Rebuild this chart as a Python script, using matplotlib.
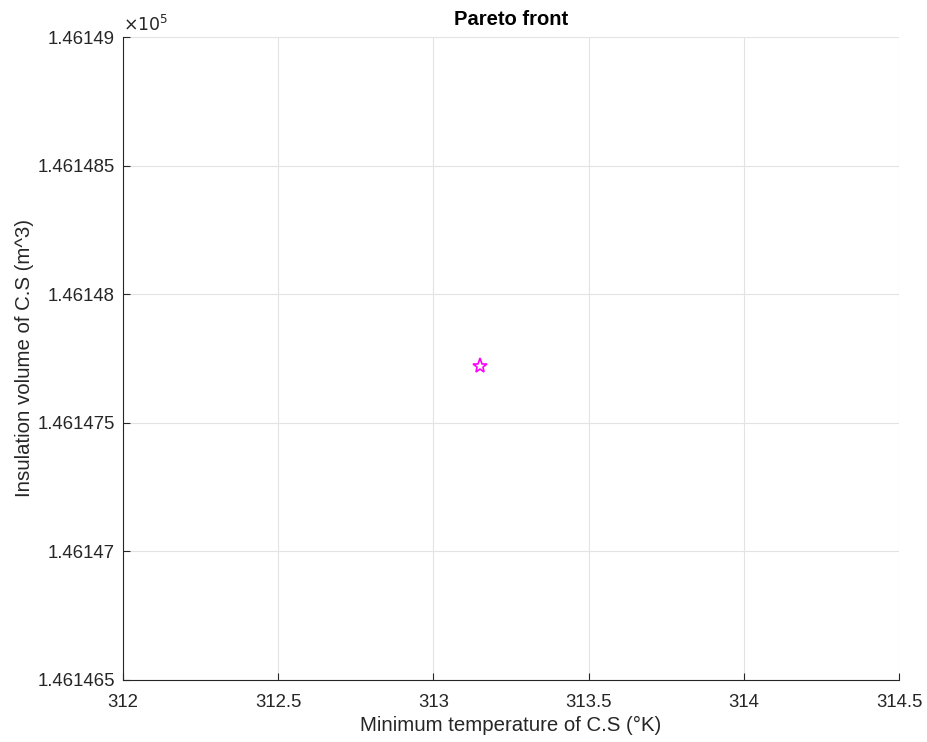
import matplotlib
matplotlib.use("Agg")
import matplotlib.pyplot as plt
from matplotlib.ticker import FuncFormatter

plt.rcParams['font.family'] = ['Liberation Sans', 'DejaVu Sans']

# Pareto solution (single point)
min_temperature = [313.15]
insulation_volume = [146147.72]

x_limits = [312.0, 314.5]
y_limits = [146146.5, 146149.0]
x_ticks = [312, 312.5, 313, 313.5, 314, 314.5]
y_ticks = [146146.5, 146147.0, 146147.5, 146148.0, 146148.5, 146149.0]

fig = plt.figure(figsize=(9.27, 7.42), dpi=100)
ax = fig.add_axes([0.1327, 0.0836, 0.8371, 0.8665])

ax.plot(min_temperature, insulation_volume, linestyle='none', marker='*',
        markersize=11, markerfacecolor='none', markeredgecolor='#ff00ff',
        markeredgewidth=1.2)

ax.set_xlim(x_limits)
ax.set_ylim(y_limits)
ax.set_xticks(x_ticks)
ax.set_yticks(y_ticks)
ax.xaxis.set_major_formatter(FuncFormatter(lambda v, p: f"{v:g}"))
ax.yaxis.set_major_formatter(FuncFormatter(lambda v, p: f"{v / 1e5:.7g}"))

ax.grid(True, color='#e3e3e3', linewidth=0.8)
ax.set_axisbelow(True)
for side in ('top', 'right'):
    ax.spines[side].set_visible(False)
for side in ('left', 'bottom'):
    ax.spines[side].set_color('#262626')
    ax.spines[side].set_linewidth(0.8)

ax.tick_params(direction='in', length=5, width=0.8, colors='#262626',
               labelsize=13.4)
ax.tick_params(axis='y', pad=6)
ax.tick_params(axis='x', pad=10)

ax.set_xlabel('Minimum temperature of C.S (°K)', fontsize=14.7,
              color='#262626', labelpad=4)
ax.set_ylabel('Insulation volume of C.S (m^3)', fontsize=14.7,
              color='#262626', labelpad=2)
ax.set_title('Pareto front', fontsize=14.5, fontweight='bold', pad=8.5)

ax.text(0.0, 1.005, r'$\times 10^{5}$', transform=ax.transAxes,
        fontsize=12.5, color='#262626', ha='left', va='bottom',
        math_fontfamily='dejavusans')

fig.savefig('out.png', dpi=100, facecolor='white')
